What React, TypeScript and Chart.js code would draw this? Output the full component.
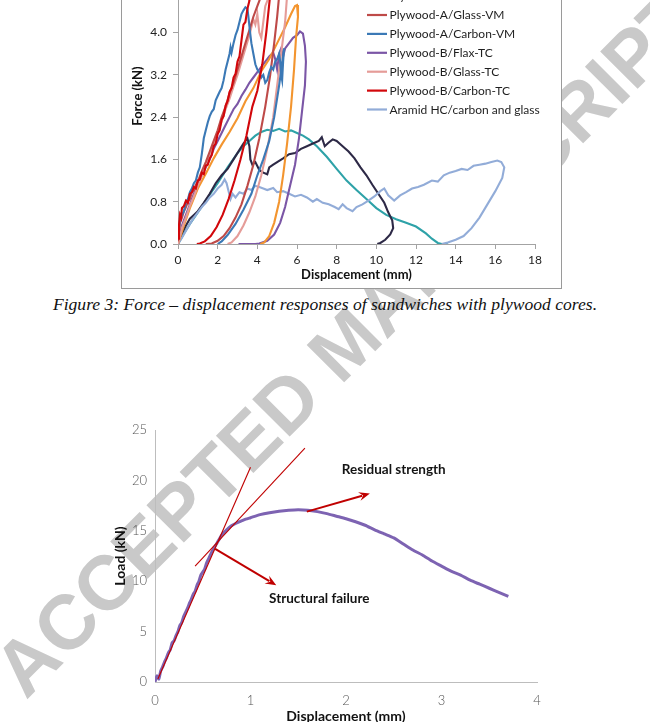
import { useEffect, useRef } from "react";
import { Chart, registerables } from "chart.js";

Chart.register(...registerables);

type Pt = [number, number];

// ---------- Figure 3: force (kN) against displacement (mm), plywood cores ----------
const forceRange = [0, 5.6, 0.8];
const dispRange = [0, 18, 2];

const plyAFlaxVM: Pt[] = [
  [0, 0], [0.3, 0.35], [0.6, 0.68], [1.0, 1.05], [1.4, 1.33], [1.8, 1.62], [2.2, 1.88],
  [2.6, 2.12], [3.0, 2.38], [3.4, 2.7], [3.8, 2.95], [4.2, 3.27], [4.6, 3.5], [5.0, 3.8],
  [5.4, 4.1], [5.7, 4.35], [5.9, 4.5], [6.0, 4.52], [6.05, 4.3], [5.95, 3.9], [5.85, 3.3],
  [5.7, 2.6], [5.5, 1.9], [5.3, 1.3], [5.1, 0.8], [4.85, 0.4], [4.6, 0.15], [4.35, 0.03], [4.15, 0],
];

const plyAGlassVM: Pt[] = [
  [0, 0.05], [0.1, 0.4], [0.2, 0.5], [0.3, 0.62], [0.4, 0.7], [0.5, 0.8], [0.6, 0.85],
  [0.7, 0.98], [0.8, 1.02], [0.9, 1.12], [1.0, 1.18], [1.2, 1.38], [1.4, 1.55], [1.6, 1.75],
  [1.8, 1.95], [2.0, 2.15], [2.2, 2.4], [2.4, 2.6], [2.6, 2.85], [2.8, 3.05], [3.0, 3.3],
  [3.2, 3.55], [3.4, 3.8], [3.6, 4.05], [3.8, 4.3], [4.0, 4.5], [4.2, 4.7], [4.4, 4.85],
  [4.7, 4.95], [5.0, 4.9], [5.1, 4.7], [5.0, 4.3], [4.85, 3.8], [4.65, 3.2], [4.4, 2.6],
  [4.1, 2.0], [3.8, 1.5], [3.5, 1.1], [3.2, 0.75], [2.9, 0.5], [2.6, 0.3], [2.3, 0.15],
  [2.0, 0.06], [1.7, 0.01], [1.4, 0],
];

const plyACarbonVM: Pt[] = [
  [0, 0.15], [0.1, 0.45], [0.2, 0.55], [0.3, 0.62], [0.4, 0.8], [0.5, 0.85], [0.6, 0.98],
  [0.7, 1.05], [0.8, 1.15], [0.9, 1.2], [1.0, 1.35], [1.1, 1.45], [1.2, 1.7], [1.3, 2.0],
  [1.4, 2.15], [1.5, 2.3], [1.6, 2.42], [1.7, 2.5], [1.8, 2.55], [1.9, 2.72], [2.0, 2.8],
  [2.1, 2.88], [2.2, 2.95], [2.3, 3.1], [2.4, 3.3], [2.5, 3.45], [2.6, 3.6], [2.65, 3.72],
  [2.7, 3.62], [2.8, 3.8], [2.9, 3.95], [3.0, 4.05], [3.1, 4.2], [3.2, 4.35], [3.3, 4.42],
  [3.4, 4.48], [3.5, 4.45], [3.55, 4.3], [3.62, 4.05], [3.7, 3.8], [3.8, 3.6], [3.9, 3.4],
  [4.0, 3.3], [4.1, 3.25], [4.2, 3.15], [4.3, 3.2], [4.4, 3.05], [4.5, 3.1], [4.6, 3.25],
  [4.7, 3.35], [4.8, 3.3], [4.9, 3.45], [5.0, 3.5], [5.1, 3.6], [5.15, 3.45], [5.2, 3.2],
  [5.25, 3.1], [5.3, 3.45], [5.35, 3.7], [5.1, 3.0], [4.85, 2.4], [4.6, 1.95], [4.3, 1.6],
  [4.0, 1.3], [3.7, 0.95], [3.3, 0.65], [2.9, 0.38], [2.5, 0.17], [2.2, 0.05], [2.0, 0],
];

const plyBFlaxTC: Pt[] = [
  [0, 0], [0.2, 0.35], [0.4, 0.55], [0.6, 0.75], [0.8, 0.95], [1.0, 1.15], [1.2, 1.3],
  [1.4, 1.45], [1.6, 1.6], [1.8, 1.8], [2.0, 1.95], [2.2, 2.1], [2.4, 2.25], [2.6, 2.4],
  [2.8, 2.55], [3.0, 2.65], [3.2, 2.8], [3.4, 2.92], [3.6, 3.05], [3.8, 3.15], [4.0, 3.25],
  [4.2, 3.35], [4.4, 3.45], [4.6, 3.55], [4.8, 3.62], [4.9, 3.5], [5.0, 3.3], [5.1, 3.6],
  [5.2, 3.7], [5.3, 3.55], [5.4, 3.7], [5.6, 3.8], [5.8, 3.9], [6.0, 3.95], [6.15, 4.02],
  [6.3, 3.98], [6.4, 3.75], [6.45, 3.45], [6.4, 3.0], [6.25, 2.5], [6.1, 2.0], [5.9, 1.5],
  [5.65, 1.1], [5.4, 0.7], [5.15, 0.4], [4.85, 0.18], [4.5, 0.06], [4.1, 0.01], [3.9, 0],
  [3.05, 0],
];

const plyBGlassTC: Pt[] = [
  [0, 0], [0.2, 0.3], [0.4, 0.5], [0.6, 0.72], [0.8, 0.9], [1.0, 1.1], [1.2, 1.28],
  [1.4, 1.5], [1.6, 1.7], [1.8, 1.9], [2.0, 2.1], [2.2, 2.32], [2.4, 2.55], [2.6, 2.75],
  [2.8, 2.98], [3.0, 3.2], [3.2, 3.45], [3.4, 3.7], [3.6, 3.95], [3.8, 4.25], [3.9, 4.15],
  [4.0, 4.35], [4.1, 4.0], [4.2, 3.9], [4.3, 4.2], [4.4, 4.5], [4.6, 4.7], [5.0, 4.8],
  [5.4, 4.85], [5.5, 4.7], [5.4, 4.2], [5.2, 3.6], [5.0, 3.0], [4.8, 2.4], [4.5, 1.8],
  [4.2, 1.3], [3.9, 0.9], [3.6, 0.6], [3.3, 0.35], [3.0, 0.15], [2.7, 0.03], [2.5, 0],
];

const plyBCarbonTC: Pt[] = [
  [0, 0.1], [0.05, 0.35], [0.1, 0.55], [0.15, 0.5], [0.2, 0.68], [0.3, 0.72], [0.4, 0.82],
  [0.5, 0.78], [0.6, 0.95], [0.7, 0.98], [0.8, 1.08], [0.9, 1.05], [1.0, 1.2], [1.1, 1.22],
  [1.2, 1.35], [1.3, 1.32], [1.4, 1.48], [1.5, 1.5], [1.6, 1.62], [1.7, 1.68], [1.8, 1.85],
  [1.9, 1.9], [2.0, 2.08], [2.1, 2.15], [2.2, 2.35], [2.3, 2.42], [2.4, 2.62], [2.5, 2.7],
  [2.6, 2.88], [2.7, 2.95], [2.8, 3.15], [2.9, 3.22], [3.0, 3.45], [3.1, 3.55], [3.2, 3.85],
  [3.3, 4.15], [3.4, 4.2], [3.5, 4.45], [3.6, 4.6], [3.7, 4.85], [3.8, 5.0], [3.95, 5.1],
  [4.3, 5.15], [4.7, 5.0], [4.62, 4.61], [4.45, 4.0], [4.25, 3.4], [4.0, 2.9], [3.75, 2.6],
  [3.45, 2.05], [3.15, 1.6], [2.85, 1.2], [2.55, 0.85], [2.25, 0.55], [1.95, 0.32],
  [1.65, 0.15], [1.35, 0.05], [1.1, 0.01], [0.95, 0],
];

const aramidHC: Pt[] = [
  [0, 0], [0.2, 0.12], [0.4, 0.25], [0.6, 0.38], [0.8, 0.5], [1.0, 0.6], [1.2, 0.7],
  [1.4, 0.78], [1.6, 0.88], [1.8, 0.95], [2.0, 1.05], [2.2, 1.12], [2.35, 1.22], [2.45, 1.15],
  [2.55, 1.0], [2.65, 0.85], [2.75, 0.95], [2.9, 0.88], [3.1, 0.98], [3.3, 0.95], [3.5, 1.05],
  [3.7, 1.02], [3.9, 1.1], [4.1, 1.08], [4.3, 1.05], [4.5, 1.02], [4.8, 1.06], [5.0, 0.98],
  [5.3, 1.0], [5.6, 0.95], [5.9, 0.9], [6.2, 0.93], [6.5, 0.88], [6.8, 0.8], [7.0, 0.85],
  [7.3, 0.78], [7.6, 0.75], [7.9, 0.7], [8.1, 0.66], [8.3, 0.75], [8.5, 0.68], [8.8, 0.62],
  [9.0, 0.7], [9.3, 0.75], [9.6, 0.82], [9.9, 0.9], [10.2, 1.0], [10.4, 1.05], [10.6, 0.92],
  [10.9, 0.82], [11.2, 0.92], [11.5, 0.98], [11.8, 1.05], [12.1, 1.08], [12.4, 1.12],
  [12.8, 1.2], [13.1, 1.18], [13.4, 1.3], [13.7, 1.35], [14.0, 1.38], [14.3, 1.42],
  [14.6, 1.4], [14.9, 1.48], [15.2, 1.5], [15.5, 1.52], [15.8, 1.55], [16.1, 1.58],
  [16.3, 1.55], [16.45, 1.45], [16.35, 1.25], [16.0, 1.0], [15.6, 0.75], [15.2, 0.5],
  [14.8, 0.3], [14.4, 0.15], [14.0, 0.08], [13.6, 0.03], [13.3, 0],
];

const tealCurve: Pt[] = [
  [0, 0], [0.3, 0.2], [0.6, 0.38], [1.0, 0.6], [1.5, 0.88], [2.0, 1.15], [2.5, 1.45],
  [3.0, 1.72], [3.3, 1.85], [3.6, 1.95], [3.9, 2.05], [4.2, 2.12], [4.5, 2.16], [4.8, 2.14],
  [5.1, 2.18], [5.4, 2.13], [5.7, 2.15], [6.0, 2.1], [6.3, 2.05], [6.6, 1.98], [7.0, 1.85],
  [7.5, 1.65], [8.0, 1.42], [8.5, 1.2], [9.0, 1.02], [9.5, 0.85], [10.0, 0.68], [10.5, 0.55],
  [11.0, 0.47], [11.5, 0.4], [12.0, 0.33], [12.5, 0.2], [12.8, 0.1], [13.1, 0.02],
  [13.3, 0], [13.6, 0],
];

const navyCurve: Pt[] = [
  [0, 0], [0.2, 0.2], [0.4, 0.35], [0.6, 0.48], [0.8, 0.55], [1.0, 0.62], [1.3, 0.78],
  [1.6, 0.95], [1.9, 1.15], [2.2, 1.3], [2.5, 1.42], [2.8, 1.6], [3.1, 1.78], [3.3, 1.9],
  [3.5, 2.0], [3.6, 1.85], [3.65, 1.6], [3.75, 1.5], [3.9, 1.55], [4.1, 1.4], [4.3, 1.35],
  [4.5, 1.32], [4.6, 1.45], [4.8, 1.5], [5.0, 1.55], [5.3, 1.62], [5.6, 1.7], [5.9, 1.72],
  [6.2, 1.8], [6.5, 1.85], [6.8, 1.9], [7.1, 1.95], [7.25, 2.02], [7.4, 1.85], [7.6, 1.92],
  [7.8, 1.98], [8.0, 1.95], [8.3, 1.85], [8.6, 1.75], [8.9, 1.62], [9.2, 1.45], [9.5, 1.3],
  [9.8, 1.12], [10.1, 0.95], [10.4, 0.78], [10.6, 0.6], [10.8, 0.45], [10.85, 0.3],
  [10.7, 0.18], [10.45, 0.08], [10.2, 0.02], [10.05, 0],
];

const legendOrder = [
  "Plywood-A/Flax-VM",
  "Plywood-A/Glass-VM",
  "Plywood-A/Carbon-VM",
  "Plywood-B/Flax-TC",
  "Plywood-B/Glass-TC",
  "Plywood-B/Carbon-TC",
  "Aramid HC/carbon and glass",
];

// ---------- Load (kN) against displacement (mm) with failure construction ----------
const loadRange = [0, 25, 5];
const loadDispRange = [0, 4, 1];

const loadCurve: Pt[] = [
  [0, 0], [0.02, 0.6], [0.04, 0.3], [0.06, 1.1], [0.08, 1.5], [0.1, 2.0], [0.12, 2.4],
  [0.14, 2.9], [0.16, 3.2], [0.18, 3.9], [0.2, 4.1], [0.22, 4.6], [0.24, 5.0], [0.26, 5.6],
  [0.28, 5.9], [0.3, 6.5], [0.32, 6.9], [0.34, 7.3], [0.36, 7.8], [0.38, 8.2], [0.4, 8.7],
  [0.42, 9.0], [0.44, 9.6], [0.46, 10.0], [0.48, 10.6], [0.5, 10.9], [0.52, 11.2],
  [0.54, 11.8], [0.56, 12.2], [0.58, 12.6], [0.6, 13.0], [0.62, 13.3], [0.65, 13.8],
  [0.7, 14.6], [0.75, 15.1], [0.8, 15.5], [0.85, 15.75], [0.9, 15.95], [0.95, 16.15],
  [1.0, 16.3], [1.1, 16.6], [1.2, 16.8], [1.3, 16.95], [1.4, 17.05], [1.5, 17.1],
  [1.6, 17.05], [1.7, 16.9], [1.8, 16.7], [1.9, 16.45], [2.0, 16.2], [2.1, 15.9],
  [2.2, 15.55], [2.3, 15.1], [2.4, 14.7], [2.5, 14.3], [2.6, 13.7], [2.7, 13.1],
  [2.8, 12.6], [2.9, 12.0], [3.0, 11.5], [3.1, 11.0], [3.2, 10.6], [3.3, 10.1],
  [3.4, 9.7], [3.5, 9.3], [3.6, 8.9], [3.7, 8.5],
];

const elasticTangent: Pt[] = [[0.03, 0.3], [1.0, 21.3]];
const yieldTangent: Pt[] = [[0.42, 11.5], [1.57, 23.2]];

const noteLabels = ["Structural failure", "Residual strength"];
const noteArrowFrom: Pt[] = [[0.63, 13.2], [1.59, 16.9]];
const noteArrowTo: Pt[] = [[1.27, 9.6], [2.25, 18.7]];
const noteTextAt: Pt[] = [[1.72, 8.25], [2.5, 21.1]];

const toXY = (pts: Pt[]) => pts.map(([x, y]) => ({ x, y }));

const cornerLegend = {
  id: "cornerLegend",
  afterDatasetsDraw(chart: any) {
    const { ctx, chartArea } = chart;
    ctx.save();
    ctx.font = "12px Lato";
    ctx.textBaseline = "middle";
    ctx.textAlign = "left";
    legendOrder.forEach((label, i) => {
      const ds = chart.data.datasets.find((d: any) => d.label === label);
      if (!ds) return;
      const y = chartArea.top + 48.1 + i * 18.9;
      ctx.strokeStyle = ds.borderColor;
      ctx.lineWidth = 2.2;
      ctx.beginPath();
      ctx.moveTo(chartArea.right - 168, y);
      ctx.lineTo(chartArea.right - 148, y);
      ctx.stroke();
      ctx.fillStyle = "#1e1e1e";
      ctx.fillText(label, chartArea.right - 145.5, y + 0.5);
    });
    ctx.restore();
  },
};

const arrowNotes = {
  id: "arrowNotes",
  afterDatasetsDraw(chart: any) {
    const { ctx } = chart;
    const xs = chart.scales.x;
    const ys = chart.scales.y;
    ctx.save();
    const red = "#C00000";
    noteArrowFrom.forEach((from, i) => {
      const to = noteArrowTo[i];
      const x1 = xs.getPixelForValue(from[0]);
      const y1 = ys.getPixelForValue(from[1]);
      const x2 = xs.getPixelForValue(to[0]);
      const y2 = ys.getPixelForValue(to[1]);
      const ang = Math.atan2(y2 - y1, x2 - x1);
      const head = 11;
      const bx = x2 - Math.cos(ang) * (head - 3);
      const by = y2 - Math.sin(ang) * (head - 3);
      ctx.strokeStyle = red;
      ctx.lineWidth = 2;
      ctx.beginPath();
      ctx.moveTo(x1, y1);
      ctx.lineTo(bx, by);
      ctx.stroke();
      ctx.fillStyle = red;
      ctx.beginPath();
      ctx.moveTo(x2, y2);
      ctx.lineTo(x2 - Math.cos(ang) * head - Math.sin(ang) * 4.5, y2 - Math.sin(ang) * head + Math.cos(ang) * 4.5);
      ctx.lineTo(x2 - Math.cos(ang) * (head - 4), y2 - Math.sin(ang) * (head - 4));
      ctx.lineTo(x2 - Math.cos(ang) * head + Math.sin(ang) * 4.5, y2 - Math.sin(ang) * head - Math.cos(ang) * 4.5);
      ctx.closePath();
      ctx.fill();
    });
    ctx.font = "bold 13.5px Lato";
    ctx.fillStyle = "#141414";
    ctx.textAlign = "center";
    ctx.textBaseline = "middle";
    noteLabels.forEach((t, i) => {
      const [vx, vy] = noteTextAt[i];
      ctx.fillText(t, xs.getPixelForValue(vx), ys.getPixelForValue(vy));
    });
    ctx.restore();
  },
};

function ForceChart() {
  const ref = useRef<HTMLCanvasElement>(null);
  useEffect(() => {
    if (!ref.current) return;
    const line = (label: string, pts: Pt[], color: string) => ({
      label,
      data: toXY(pts),
      borderColor: color,
      backgroundColor: color,
      borderWidth: 2.1,
      pointRadius: 0,
      tension: 0,
      fill: false,
    });
    const chart = new Chart(ref.current, {
      type: "line",
      data: {
        datasets: [
          line("Plywood-B/Carbon-TC", plyBCarbonTC, "#D2070B"),
          line("Plywood-A/Carbon-VM", plyACarbonVM, "#3B79B6"),
          line("Plywood-A/Glass-VM", plyAGlassVM, "#BE4A48"),
          line("Plywood-B/Glass-TC", plyBGlassTC, "#E59C98"),
          line("Plywood-A/Flax-VM", plyAFlaxVM, "#F3952F"),
          line("Plywood-B/Flax-TC", plyBFlaxTC, "#7B56A6"),
          line("Aramid HC/carbon and glass", aramidHC, "#92ACD8"),
          line("Plywood-A (repeat)", navyCurve, "#2D2946"),
          line("Plywood-B (repeat)", tealCurve, "#2EA2A8"),
        ],
      },
      options: {
        responsive: false,
        animation: false,
        devicePixelRatio: 1,
        layout: { padding: { top: 28, right: 26, left: 0, bottom: 0 } },
        plugins: { legend: { display: false }, tooltip: { enabled: false } },
        scales: {
          x: {
            type: "linear",
            min: dispRange[0],
            max: dispRange[1],
            afterFit: (s: any) => { s.height = 44; },
            ticks: { stepSize: dispRange[2], padding: 4, color: "#222", font: { family: "Lato", size: 12 } },
            grid: { display: true, drawOnChartArea: false, drawTicks: true, tickLength: 5, color: "#A3A3A3" },
            border: { display: true, color: "#A3A3A3", width: 1 },
            title: {
              display: true,
              text: "Displacement (mm)",
              color: "#111",
              font: { family: "Lato", size: 13, weight: "bold" },
              padding: { top: 0, bottom: 5 },
            },
          },
          y: {
            type: "linear",
            min: forceRange[0],
            max: forceRange[1],
            afterFit: (s: any) => { s.width = 56; },
            ticks: {
              stepSize: forceRange[2],
              padding: 6,
              color: "#222",
              font: { family: "Lato", size: 12 },
              callback: (v: any) => Number(v).toFixed(1),
            },
            grid: { display: true, drawOnChartArea: false, drawTicks: true, tickLength: 5, color: "#A3A3A3" },
            border: { display: true, color: "#A3A3A3", width: 1 },
            title: {
              display: true,
              text: "Force (kN)",
              color: "#111",
              font: { family: "Lato", size: 13, weight: "bold" },
              padding: { top: 8, bottom: 0 },
            },
          },
        },
      },
      plugins: [cornerLegend],
    });
    return () => chart.destroy();
  }, []);
  return <canvas ref={ref} width={439} height={368} style={{ display: "block" }} />;
}

function LoadChart() {
  const ref = useRef<HTMLCanvasElement>(null);
  useEffect(() => {
    if (!ref.current) return;
    const chart = new Chart(ref.current, {
      type: "line",
      data: {
        datasets: [
          { label: "Elastic tangent", data: toXY(elasticTangent), borderColor: "#C00000", borderWidth: 1.1, pointRadius: 0 },
          { label: "Post-yield tangent", data: toXY(yieldTangent), borderColor: "#C00000", borderWidth: 1.1, pointRadius: 0 },
          { label: "Load", data: toXY(loadCurve), borderColor: "#7D63B2", borderWidth: 3, pointRadius: 0, tension: 0.2 },
        ],
      },
      options: {
        responsive: false,
        animation: false,
        devicePixelRatio: 1,
        layout: { padding: { top: 30, right: 23, left: 0, bottom: 0 } },
        plugins: { legend: { display: false }, tooltip: { enabled: false } },
        scales: {
          x: {
            type: "linear",
            min: loadDispRange[0],
            max: loadDispRange[1],
            afterFit: (s: any) => { s.height = 58; },
            ticks: { stepSize: loadDispRange[2], padding: 11, color: "#555", font: { family: "Lato", size: 13, weight: "300" } },
            grid: { display: false, drawTicks: false },
            border: { display: true, color: "#BDBDBD", width: 1 },
            title: {
              display: true,
              text: "Displacement (mm)",
              color: "#111",
              font: { family: "Lato", size: 14, weight: "bold" },
              padding: { top: 0, bottom: 15 },
            },
          },
          y: {
            type: "linear",
            min: loadRange[0],
            max: loadRange[1],
            afterFit: (s: any) => { s.width = 65; },
            ticks: { stepSize: loadRange[2], padding: 8, color: "#555", font: { family: "Lato", size: 13, weight: "300" } },
            grid: { display: false, drawTicks: false },
            border: { display: true, color: "#BDBDBD", width: 1 },
            title: {
              display: true,
              text: "Load (kN)",
              color: "#111",
              font: { family: "Lato", size: 14, weight: "bold" },
              padding: { top: 22, bottom: 0 },
            },
          },
        },
      },
      plugins: [arrowNotes],
    });
    return () => chart.destroy();
  }, []);
  return <canvas ref={ref} width={470} height={340} style={{ display: "block" }} />;
}

export default function App() {
  return (
    <div style={{ position: "absolute", left: 0, top: 0, width: 650, height: 722, overflow: "hidden", background: "#fff" }}>
      <div
        style={{
          position: "absolute",
          left: 346,
          top: 343,
          transform: "translate(-50%, -50%) rotate(-45deg)",
          font: "bold 77px 'Liberation Sans', Arial, sans-serif",
          color: "#C9C9C9",
          whiteSpace: "nowrap",
          lineHeight: 1,
        }}
      >
        ACCEPTED MANUSCRIPT
      </div>
      <div style={{ position: "absolute", left: 90, top: 400 }}>
        <LoadChart />
      </div>
      <div
        style={{
          position: "absolute",
          left: 0,
          top: 294,
          width: 650,
          textAlign: "center",
          fontFamily: "'Liberation Serif', 'Times New Roman', serif",
          fontStyle: "italic",
          fontSize: 17.6,
          color: "#111",
          whiteSpace: "nowrap",
        }}
      >
        Figure 3: Force – displacement responses of sandwiches with plywood cores.
      </div>
      <div
        style={{
          position: "absolute",
          left: 121,
          top: -81,
          width: 439,
          height: 368,
          border: "1px solid #9A9A9A",
          background: "#fff",
        }}
      >
        <ForceChart />
      </div>
    </div>
  );
}
